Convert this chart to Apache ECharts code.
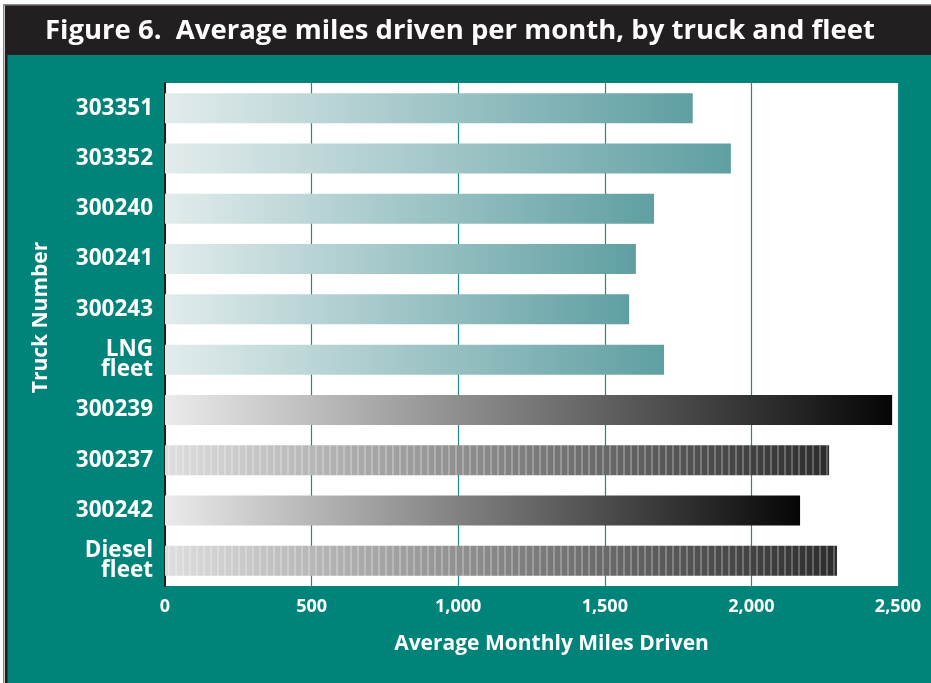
<!DOCTYPE html>
<html>
<head>
<meta charset="utf-8">
<script src="https://cdn.jsdelivr.net/npm/echarts@6/dist/echarts.min.js"></script>
<style>
html,body{margin:0;padding:0;background:#fff;}
#chart{width:931px;height:683px;}
</style>
</head>
<body>
<div id="chart"></div>
<script>
// ---- data ----
const categories = ['303351', '303352', '300240', '300241', '300243', 'LNG\nfleet', '300239', '300237', '300242', 'Diesel\nfleet'];
const milesDriven = [1800, 1930, 1668, 1606, 1583, 1702, 2480, 2265, 2166, 2292];
const fuelType = ['LNG', 'LNG', 'LNG', 'LNG', 'LNG', 'LNG', 'Diesel', 'Diesel', 'Diesel', 'Diesel'];
const isStriped = [false, false, false, false, false, false, false, true, false, true];
const xTicks = [0, 500, 1000, 1500, 2000, 2500];

const TEAL = '#00847a';
const DARK = '#231f20';

function grad(c0, c1) {
  return {type: 'linear', x: 0, y: 0, x2: 1, y2: 0,
    colorStops: [{offset: 0, color: c0}, {offset: 1, color: c1}]};
}

const barData = milesDriven.map((v, i) => {
  let color;
  if (fuelType[i] === 'LNG') color = grad('#e2ecec', '#5f9fa2');
  else if (isStriped[i]) color = grad('#dedede', '#2c2c2c');
  else color = grad('#ebebeb', '#060606');
  const decal = isStriped[i]
    ? {symbol: 'rect', symbolSize: 1, color: 'rgba(255,255,255,0.25)', dashArrayX: [1.5, 5], dashArrayY: [10, 0], rotation: 0}
    : {symbol: 'none'};
  return {value: v, itemStyle: {color: color, decal: decal}};
});

const chart = echarts.init(document.getElementById('chart'), null, {renderer: 'canvas'});
chart.setOption({
  backgroundColor: TEAL,
  animation: false,
  aria: {enabled: true, decal: {show: true}},
  graphic: [
    {type: 'rect', left: 0, top: 0, shape: {width: 931, height: 5}, style: {fill: '#ffffff'}, z: 10},
    {type: 'rect', left: 0, top: 0, shape: {width: 5, height: 683}, style: {fill: '#ffffff'}, z: 10},
    {type: 'rect', left: 3, top: 4, shape: {width: 928, height: 1.5}, style: {fill: '#8a8a8a'}, z: 11},
    {type: 'rect', left: 3, top: 4, shape: {width: 1.5, height: 679}, style: {fill: '#8a8a8a'}, z: 11},
    {type: 'rect', left: 5, top: 5, shape: {width: 926, height: 50}, style: {fill: DARK}, z: 10},
    {type: 'rect', left: 5, top: 5, shape: {width: 2.5, height: 678}, style: {fill: DARK}, z: 10},
    {type: 'text', left: 45, top: 17, z: 12,
      style: {text: 'Figure 6.  Average miles driven per month, by truck and fleet',
        fill: '#ffffff', font: 'bold 27.5px "Open Sans", sans-serif'}}
  ],
  grid: {left: 165, right: 33, top: 83, bottom: 97, show: true, backgroundColor: '#ffffff', borderWidth: 0},
  xAxis: {
    type: 'value', min: 0, max: 2500, interval: 500,
    name: 'Average Monthly Miles Driven', nameLocation: 'middle', nameGap: 48,
    nameTextStyle: {color: '#fff', fontSize: 21, fontWeight: 'bold', fontFamily: '"Open Sans", sans-serif', padding: [0, 0, 0, 40]},
    axisLine: {show: false}, axisTick: {show: false},
    axisLabel: {color: '#fff', fontSize: 18, fontWeight: 'bold', margin: 12, fontFamily: '"Liberation Sans Narrow", "Open Sans", sans-serif',
      formatter: v => xTicks.includes(v) ? v.toLocaleString('en-US') : ''},
    splitLine: {show: true, lineStyle: {color: '#1f8a82', width: 1.2}}
  },
  yAxis: {
    type: 'category', data: categories, inverse: true,
    name: 'Truck Number', nameLocation: 'middle', nameGap: 113, nameRotate: 90,
    nameTextStyle: {color: '#fff', fontSize: 21, fontWeight: 'bold', fontFamily: '"Open Sans", sans-serif', padding: [0, 0, 0, 34]},
    axisLine: {show: true, lineStyle: {color: DARK, width: 2}},
    axisTick: {show: false},
    axisLabel: {color: '#fff', fontSize: 22.5, fontWeight: 'bold', margin: 12, lineHeight: 20, align: 'right',
      fontFamily: '"Open Sans", sans-serif'}
  },
  series: [{
    type: 'bar', data: barData, barWidth: 30, z: 3
  }]
});
</script>
</body>
</html>
